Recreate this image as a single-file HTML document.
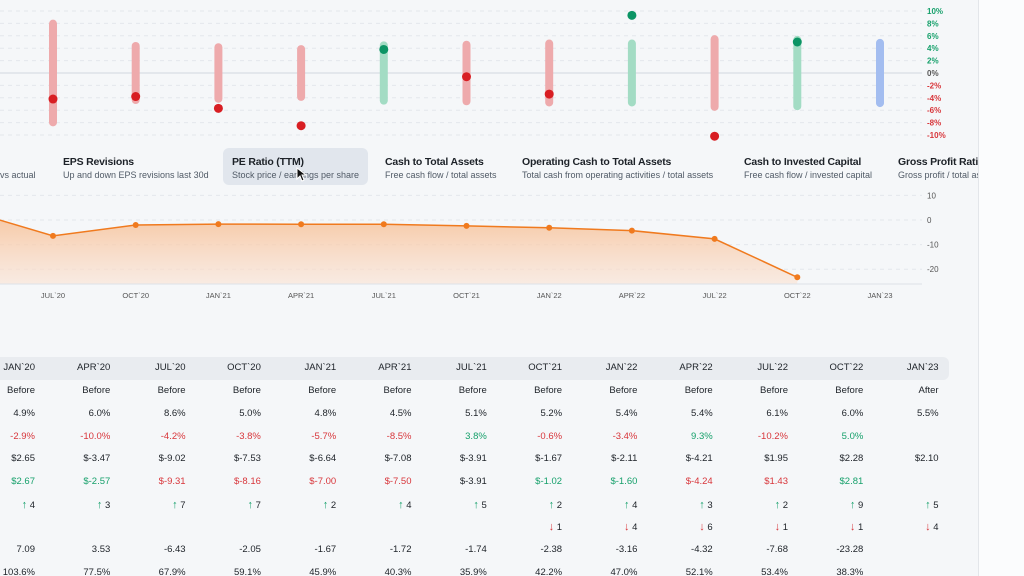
<!DOCTYPE html>
<html><head><meta charset="utf-8"><style>
html,body{margin:0;padding:0;width:1024px;height:576px;overflow:hidden;background:#f5f7f9;font-family:"Liberation Sans",sans-serif}
#main{position:absolute;left:0;top:0;width:978px;height:576px;overflow:hidden}
#side{position:absolute;left:978px;top:0;width:46px;height:576px;background:#fbfcfd;border-left:1px solid #e3e6ea}
.m{position:absolute;white-space:nowrap}
.t{font-size:10.5px;font-weight:bold;color:#1d2228;letter-spacing:-0.2px}
.s{font-size:9px;color:#505a66}
.cell{position:absolute;font-size:9.5px;text-align:right;width:70px;color:#1d2228}
.g{color:#16a06b}.r{color:#d8363b}
</style></head><body>
<div id="main">
<svg id="topc" width="978" height="145" style="position:absolute;left:0;top:0"></svg>
<div class="m" style="left:223px;top:148px;width:145px;height:37px;background:#e1e6ed;border-radius:6px"></div>
<div class="m s" style="left:0;top:170px">vs actual</div>
<div class="m" style="left:63px;top:156px"><div class="t">EPS Revisions</div><div class="s" style="margin-top:2px">Up and down EPS revisions last 30d</div></div>
<div class="m" style="left:232px;top:156px"><div class="t">PE Ratio (TTM)</div><div class="s" style="margin-top:2px">Stock price / earnings per share</div></div>
<div class="m" style="left:385px;top:156px"><div class="t">Cash to Total Assets</div><div class="s" style="margin-top:2px">Free cash flow / total assets</div></div>
<div class="m" style="left:522px;top:156px"><div class="t">Operating Cash to Total Assets</div><div class="s" style="margin-top:2px">Total cash from operating activities / total assets</div></div>
<div class="m" style="left:744px;top:156px"><div class="t">Cash to Invested Capital</div><div class="s" style="margin-top:2px">Free cash flow / invested capital</div></div>
<div class="m" style="left:898px;top:156px"><div class="t">Gross Profit Ratio</div><div class="s" style="margin-top:2px">Gross profit / total assets</div></div>
<svg class="m" style="left:296px;top:167px" width="12" height="16"><path d="M1 1 L1 12 L4 9 L6 14 L8 13 L6 8 L10 8 Z" fill="#111" stroke="#fff" stroke-width="1"/></svg>
<svg id="bot" width="978" height="305" style="position:absolute;left:0;top:0"></svg>
<div class="m" style="left:0;top:357px;width:949px;height:23px;background:#e9ecf0;border-radius:0 6px 6px 0"></div>
<div id="tbl"></div>
</div>
<div id="side"></div>
<script>
const NS="http://www.w3.org/2000/svg";
const quarters=["JUL`20","OCT`20","JAN`21","APR`21","JUL`21","OCT`21","JAN`22","APR`22","JUL`22","OCT`22","JAN`23"];
const estimates=[8.6,5.0,4.8,4.5,5.1,5.2,5.4,5.4,6.1,6.0,5.5];
const surprises=[-4.2,-3.8,-5.7,-8.5,3.8,-0.6,-3.4,9.3,-10.2,5.0,null];
const pctTicks=[10,8,6,4,2,0,-2,-4,-6,-8,-10];
const peValues=[7.09,3.53,-6.43,-2.05,-1.67,-1.72,-1.74,-2.38,-3.16,-4.32,-7.68,-23.28];
const peTicks=[10,0,-10,-20];
const tblCols=["JAN`20","APR`20","JUL`20","OCT`20","JAN`21","APR`21","JUL`21","OCT`21","JAN`22","APR`22","JUL`22","OCT`22","JAN`23"];
const tblTiming=["Before","Before","Before","Before","Before","Before","Before","Before","Before","Before","Before","Before","After"];
const tblEst=["4.9%","6.0%","8.6%","5.0%","4.8%","4.5%","5.1%","5.2%","5.4%","5.4%","6.1%","6.0%","5.5%"];
const tblSurp=["-2.9%","-10.0%","-4.2%","-3.8%","-5.7%","-8.5%","3.8%","-0.6%","-3.4%","9.3%","-10.2%","5.0%",""];
const tblEpsEst=["$2.65","$-3.47","$-9.02","$-7.53","$-6.64","$-7.08","$-3.91","$-1.67","$-2.11","$-4.21","$1.95","$2.28","$2.10"];
const tblEpsAct=["$2.67","$-2.57","$-9.31","$-8.16","$-7.00","$-7.50","$-3.91","$-1.02","$-1.60","$-4.24","$1.43","$2.81",""];
const tblUp=[4,3,7,7,2,4,5,2,4,3,2,9,5];
const tblDown=[null,null,null,null,null,null,null,1,4,6,1,1,4];
const tblPe=["7.09","3.53","-6.43","-2.05","-1.67","-1.72","-1.74","-2.38","-3.16","-4.32","-7.68","-23.28",""];
const tblLast=["103.6%","77.5%","67.9%","59.1%","45.9%","40.3%","35.9%","42.2%","47.0%","52.1%","53.4%","38.3%",""];

function el(p,tag,a){const e=document.createElementNS(NS,tag);for(const k in a)e.setAttribute(k,a[k]);p.appendChild(e);return e;}
const xq=i=>53+i*82.7;
const yp=v=>73-v*6.2;
const topSvg=document.getElementById('topc');
pctTicks.forEach(v=>{
  const l=el(topSvg,'line',{x1:0,x2:922,y1:yp(v),y2:yp(v),stroke:v===0?'#dde2e8':'#e3e7ec','stroke-width':v===0?1.5:1,'stroke-dasharray':v===0?'none':'4 4'});
  
  
  const t=el(topSvg,'text',{x:927,y:yp(v)+3,'font-size':8,'font-weight':'bold',fill:v>0?'#16a06b':v<0?'#d8363b':'#555'});
  t.textContent=v+'%';
  
  
});
quarters.forEach((q,i)=>{
  const e=estimates[i],s=surprises[i];
  const col=s===null?'#a3bdf0':(s>=0?'#a3dcc4':'#eeaaac');
  const b=el(topSvg,'line',{x1:xq(i),x2:xq(i),y1:yp(e)+4,y2:yp(-e)-4,stroke:col,'stroke-width':8,'stroke-linecap':'round'});
  
  
  if(s!==null){const c=el(topSvg,'circle',{cx:xq(i),cy:yp(s),r:4.5,fill:s>=0?'#0b9464':'#d81e23'});
  
  }
});
const bot=document.getElementById('bot');
const yv=v=>220-v*2.46;
const xpe=i=>53+(i-2)*82.7;
const defs=el(bot,'defs',{});
const g=el(defs,'linearGradient',{id:'gr',x1:0,y1:0,x2:0,y2:1});
el(g,'stop',{offset:0,'stop-color':'#f6b98a','stop-opacity':0.9});
el(g,'stop',{offset:1,'stop-color':'#fbe2d2','stop-opacity':0.6});
peTicks.forEach(v=>{
  const l=el(bot,'line',{x1:0,x2:922,y1:yv(v),y2:yv(v),stroke:'#e3e7ec','stroke-dasharray':'4 4'});
  
  
  const t=el(bot,'text',{x:927,y:yv(v)+3,'font-size':8,fill:'#555'});t.textContent=v;
  
  
});
let pts=peValues.map((v,i)=>[xpe(i),yv(v)]);
const last=pts[pts.length-1];
const area=el(bot,'path',{d:'M'+pts[0][0]+',284 L'+pts.map(p=>p.join(',')).join(' L')+' L'+last[0]+',284 Z',fill:'url(#gr)'});


const ax=el(bot,'line',{x1:0,x2:922,y1:284,y2:284,stroke:'#dde2e8'});


const ln=el(bot,'polyline',{points:pts.map(p=>p.join(',')).join(' '),fill:'none',stroke:'#f07a1e','stroke-width':1.5});


pts.forEach((p,i)=>{if(i<2)return;const c=el(bot,'circle',{cx:p[0],cy:p[1],r:3,fill:'#f07a1e'});
  
  });
quarters.forEach((q,i)=>{const t=el(bot,'text',{x:xq(i),y:298,'font-size':7.5,fill:'#555','text-anchor':'middle'});t.textContent=q;
  
  });

const tbl=document.getElementById('tbl');
const rowsY=[362,385,408,431,453,476,499,521,544,567];
function cell(i,r,html,cls,name){const d=document.createElement('div');d.className='cell '+(cls||'');
  d.style.left=(35+i*75.3-70)+'px';d.style.top=rowsY[r]+'px';d.innerHTML=html;
  
  
  tbl.appendChild(d);}
const num=s=>parseFloat(s.replace('$',''));
tblCols.forEach((c,i)=>{
  cell(i,0,c,'','table-col-header');
  cell(i,1,tblTiming[i],'','report-timing');
  cell(i,2,tblEst[i],'','estimate-cell');
  cell(i,3,tblSurp[i],tblSurp[i]&&num(tblSurp[i])>=0?'g':'r','surprise-cell');
  cell(i,4,tblEpsEst[i],'','eps-estimate-cell');
  const a=tblEpsAct[i];let cls='';
  if(a){const d=num(a)-num(tblEpsEst[i]);cls=d>0?'g':d<0?'r':'';}
  cell(i,5,a,cls,'eps-actual-cell');
  cell(i,6,'<span class="g" style="font-size:11px">&#8593;</span> '+tblUp[i],'','revisions-up-cell');
  if(tblDown[i]!==null)cell(i,7,'<span class="r" style="font-size:11px">&#8595;</span> '+tblDown[i],'','revisions-down-cell');
  cell(i,8,tblPe[i],'','pe-cell');
  cell(i,9,tblLast[i],'','ratio-cell');
});
</script>
</body></html>
